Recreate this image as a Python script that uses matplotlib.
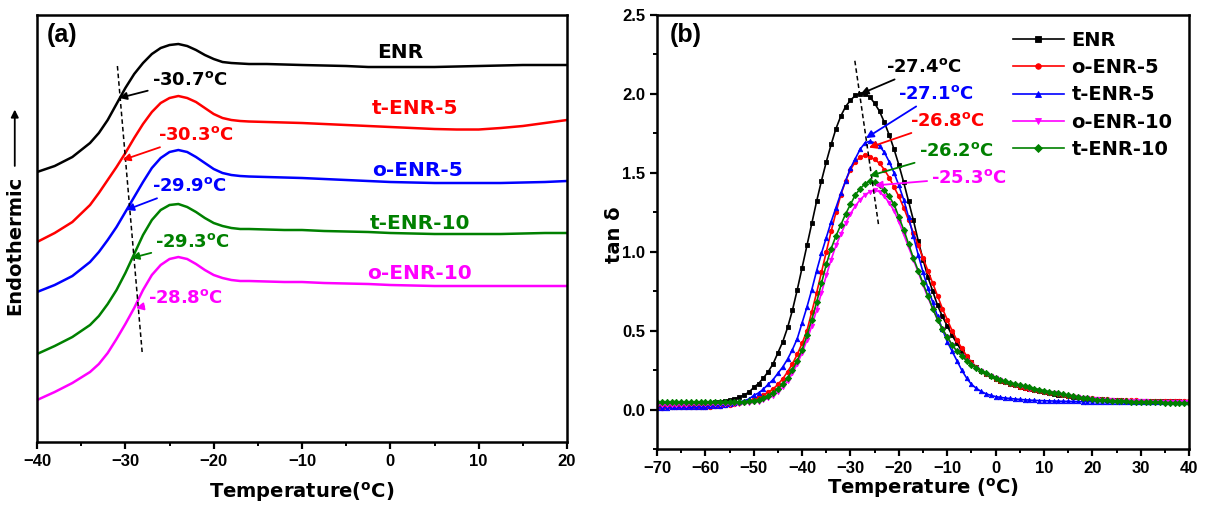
import matplotlib
matplotlib.use('Agg')
import matplotlib.pyplot as plt
from matplotlib.ticker import MultipleLocator, FormatStrFormatter

# ---------------- (a) DSC curves ----------------
T_dsc = [-40, -38, -36, -34, -33, -32, -31, -30, -29, -28, -27, -26, -25, -24, -23,
         -22, -21, -20, -19, -18, -17, -16, -14, -12, -10, -7.5, -5, -2.5, 0, 2.5,
         5, 7.5, 10, 12.5, 15, 17.5, 20]

dsc_enr = [27.0, 27.6, 28.5, 29.9, 30.9, 32.2, 33.8, 35.4, 36.8, 37.9, 38.8, 39.4, 39.7,
           39.8, 39.6, 39.2, 38.7, 38.3, 38.0, 37.9, 37.85, 37.8, 37.8, 37.75, 37.7,
           37.65, 37.6, 37.5, 37.5, 37.5, 37.5, 37.55, 37.6, 37.65, 37.7, 37.7, 37.7]
dsc_tenr5 = [20.0, 20.9, 22.0, 23.7, 24.9, 26.2, 27.5, 28.9, 30.4, 31.8, 33.0, 33.9, 34.4,
             34.6, 34.4, 34.0, 33.4, 32.8, 32.4, 32.2, 32.1, 32.05, 32.0, 31.95, 31.9,
             31.8, 31.7, 31.6, 31.5, 31.4, 31.3, 31.25, 31.25, 31.4, 31.6, 31.9, 32.2]
dsc_oenr5 = [15.0, 15.7, 16.6, 18.0, 19.0, 20.2, 21.5, 23.0, 24.5, 26.0, 27.4, 28.4, 29.0,
             29.2, 29.0, 28.5, 27.9, 27.3, 26.9, 26.7, 26.6, 26.55, 26.5, 26.45, 26.4,
             26.3, 26.2, 26.1, 26.0, 25.95, 25.9, 25.9, 25.9, 25.9, 25.95, 26.0, 26.1]
dsc_tenr10 = [8.8, 9.6, 10.5, 11.7, 12.6, 13.8, 15.2, 16.9, 18.8, 20.7, 22.2, 23.2, 23.7,
              23.8, 23.5, 23.0, 22.4, 21.9, 21.6, 21.4, 21.3, 21.3, 21.25, 21.2, 21.2,
              21.1, 21.05, 21.0, 20.9, 20.85, 20.8, 20.8, 20.8, 20.8, 20.85, 20.9, 20.9]
dsc_oenr10 = [4.2, 5.0, 5.9, 7.0, 7.8, 8.9, 10.3, 11.8, 13.4, 15.2, 16.7, 17.7, 18.3,
              18.5, 18.3, 17.8, 17.2, 16.7, 16.4, 16.2, 16.1, 16.1, 16.05, 16.0, 16.0,
              15.9, 15.85, 15.8, 15.7, 15.65, 15.6, 15.6, 15.6, 15.6, 15.6, 15.6, 15.6]

dsc_names = ['ENR', 't-ENR-5', 'o-ENR-5', 't-ENR-10', 'o-ENR-10']
dsc_colors = ['black', '#ff0000', '#0000ff', '#008000', '#ff00ff']
dsc_series = [dsc_enr, dsc_tenr5, dsc_oenr5, dsc_tenr10, dsc_oenr10]
dsc_label_pos = [(1.1, 39.0), (2.8, 33.4), (3.1, 27.2), (3.4, 21.9), (3.3, 16.9)]

tg_dsc = [-30.7, -30.3, -29.9, -29.3, -28.8]
tg_dsc_y = [34.4, 28.2, 23.2, 18.4, 13.4]
tg_dsc_text = [(-27.0, 36.2), (-26.3, 30.7), (-27.0, 25.6), (-26.6, 20.0), (-27.4, 14.4)]
guide_a_T = [-30.9, -28.1]
guide_a_y = [37.6, 9.0]

# ---------------- (b) DMA tan delta ----------------
T_dma = list(range(-70, 41))

tan_enr = [0.035, 0.035, 0.036, 0.036, 0.037, 0.037, 0.038, 0.038, 0.039, 0.040, 0.041, 0.043, 0.045, 0.048, 0.053,
           0.060, 0.068, 0.078, 0.092, 0.11,
           0.14, 0.165, 0.20, 0.24, 0.29, 0.36, 0.43, 0.52, 0.63, 0.76,
           0.90, 1.04, 1.18, 1.32, 1.45, 1.57, 1.68, 1.78, 1.86, 1.92,
           1.96, 1.99, 2.00, 2.00, 1.98, 1.94, 1.89, 1.82, 1.74, 1.65,
           1.55, 1.44, 1.32, 1.20, 1.07, 0.95, 0.84, 0.75, 0.66, 0.59,
           0.53, 0.47, 0.42, 0.37, 0.33, 0.30, 0.27, 0.245, 0.225, 0.21,
           0.195, 0.183, 0.172, 0.162, 0.153, 0.145, 0.137, 0.130, 0.123, 0.116,
           0.110, 0.104, 0.099, 0.094, 0.089, 0.085, 0.081, 0.077, 0.074, 0.071,
           0.068, 0.066, 0.064, 0.062, 0.060, 0.059, 0.058, 0.057, 0.056, 0.055,
           0.054, 0.054, 0.053, 0.053, 0.052, 0.052, 0.052, 0.051, 0.051, 0.050, 0.050]
tan_oenr5 = [0.012, 0.012, 0.013, 0.013, 0.014, 0.014, 0.015, 0.015, 0.016, 0.017, 0.018, 0.019, 0.021, 0.023, 0.026,
             0.030, 0.035, 0.040, 0.048, 0.056,
             0.065, 0.078, 0.092, 0.11, 0.13, 0.16, 0.195, 0.24, 0.29, 0.35,
             0.42, 0.50, 0.62, 0.74, 0.87, 1.00, 1.13, 1.25, 1.36, 1.45,
             1.52, 1.57, 1.60, 1.61, 1.60, 1.585, 1.56, 1.52, 1.47, 1.41,
             1.35, 1.28, 1.20, 1.12, 1.04, 0.96, 0.88, 0.80, 0.72, 0.64,
             0.57, 0.50, 0.44, 0.39, 0.34, 0.30, 0.27, 0.245, 0.225, 0.21,
             0.195, 0.183, 0.172, 0.162, 0.153, 0.145, 0.138, 0.131, 0.125, 0.119,
             0.113, 0.108, 0.103, 0.098, 0.093, 0.088, 0.084, 0.080, 0.076, 0.073,
             0.070, 0.068, 0.066, 0.064, 0.062, 0.061, 0.060, 0.059, 0.058, 0.058,
             0.057, 0.057, 0.057, 0.056, 0.056, 0.056, 0.056, 0.056, 0.057, 0.057, 0.057]
tan_tenr5 = [0.012, 0.012, 0.012, 0.013, 0.013, 0.014, 0.014, 0.015, 0.016, 0.017, 0.018, 0.020, 0.022, 0.025, 0.029,
             0.034, 0.040, 0.047, 0.056, 0.066,
             0.09, 0.105, 0.13, 0.16, 0.19, 0.23, 0.27, 0.32, 0.38, 0.45,
             0.55, 0.65, 0.76, 0.88, 0.99, 1.09, 1.19, 1.28, 1.37, 1.45,
             1.53, 1.59, 1.65, 1.69, 1.70, 1.69, 1.67, 1.63, 1.57, 1.50,
             1.42, 1.33, 1.22, 1.10, 0.98, 0.87, 0.77, 0.68, 0.59, 0.51,
             0.43, 0.37, 0.31, 0.25, 0.20, 0.16, 0.135, 0.115, 0.10, 0.09,
             0.082, 0.077, 0.073, 0.070, 0.067, 0.064, 0.062, 0.060, 0.058, 0.057,
             0.056, 0.055, 0.054, 0.053, 0.052, 0.052, 0.051, 0.051, 0.050, 0.050,
             0.050, 0.050, 0.050, 0.050, 0.050, 0.050, 0.050, 0.050, 0.050, 0.050,
             0.050, 0.050, 0.050, 0.050, 0.050, 0.050, 0.050, 0.050, 0.050, 0.050, 0.050]
tan_oenr10 = [0.030, 0.030, 0.030, 0.030, 0.031, 0.031, 0.031, 0.032, 0.032, 0.032, 0.033, 0.033, 0.034, 0.034, 0.035,
              0.036, 0.037, 0.038, 0.040, 0.042,
              0.045, 0.05, 0.06, 0.072, 0.088, 0.11, 0.14, 0.18, 0.23, 0.29,
              0.36, 0.44, 0.53, 0.63, 0.74, 0.85, 0.95, 1.04, 1.11, 1.18,
              1.24, 1.29, 1.33, 1.36, 1.38, 1.39, 1.38, 1.35, 1.31, 1.26,
              1.19, 1.11, 1.03, 0.95, 0.87, 0.79, 0.71, 0.64, 0.57, 0.51,
              0.46, 0.41, 0.37, 0.34, 0.31, 0.285, 0.262, 0.242, 0.226, 0.212,
              0.198, 0.186, 0.175, 0.165, 0.156, 0.148, 0.14, 0.133, 0.126, 0.12,
              0.114, 0.108, 0.102, 0.097, 0.092, 0.087, 0.082, 0.078, 0.074, 0.07,
              0.067, 0.064, 0.062, 0.06, 0.058, 0.056, 0.055, 0.054, 0.053, 0.052,
              0.051, 0.051, 0.05, 0.05, 0.05, 0.049, 0.049, 0.049, 0.048, 0.048, 0.048]
tan_tenr10 = [0.046, 0.046, 0.046, 0.046, 0.046, 0.046, 0.046, 0.046, 0.046, 0.046, 0.046, 0.046, 0.046, 0.047, 0.047,
              0.047, 0.048, 0.048, 0.049, 0.051,
              0.055, 0.062, 0.072, 0.085, 0.105, 0.13, 0.16, 0.20, 0.25, 0.31,
              0.38, 0.47, 0.57, 0.68, 0.80, 0.92, 1.02, 1.10, 1.17, 1.24,
              1.30, 1.36, 1.40, 1.43, 1.45, 1.44, 1.42, 1.39, 1.35, 1.30,
              1.22, 1.14, 1.05, 0.96, 0.88, 0.80, 0.72, 0.64, 0.57, 0.51,
              0.46, 0.41, 0.37, 0.34, 0.31, 0.285, 0.265, 0.245, 0.23, 0.215,
              0.20, 0.19, 0.18, 0.17, 0.162, 0.155, 0.148, 0.14, 0.133, 0.127,
              0.12, 0.114, 0.108, 0.102, 0.096, 0.09, 0.084, 0.079, 0.074, 0.07,
              0.066, 0.063, 0.06, 0.058, 0.056, 0.054, 0.052, 0.051, 0.05, 0.049,
              0.048, 0.047, 0.046, 0.045, 0.045, 0.044, 0.044, 0.043, 0.043, 0.042, 0.042]

dma_names = ['ENR', 'o-ENR-5', 't-ENR-5', 'o-ENR-10', 't-ENR-10']
dma_colors = ['black', '#ff0000', '#0000ff', '#ff00ff', '#008000']
dma_markers = ['s', 'o', '^', 'v', 'D']
dma_series = [tan_enr, tan_oenr5, tan_tenr5, tan_oenr10, tan_tenr10]

# peak labels: text (T, y), arrow tip (T, y), colour
tg_dma = ['-27.4', '-27.1', '-26.8', '-26.2', '-25.3']
tg_dma_colors = ['black', '#0000ff', '#ff0000', '#008000', '#ff00ff']
tg_dma_text = [(-22.7, 2.17), (-20.1, 2.0), (-17.8, 1.83), (-15.9, 1.64), (-13.3, 1.47)]
tg_dma_tip = [(-27.9, 2.0), (-26.8, 1.72), (-26.2, 1.66), (-26.1, 1.48), (-25.0, 1.42)]
guide_b_T = [-29.1, -24.2]
guide_b_y = [2.21, 1.17]

BOLD = 'DejaVu Sans'
TICKF = 'Liberation Sans'
plt.rcParams['mathtext.default'] = 'bf'

fig = plt.figure(figsize=(12.1, 5.07), dpi=100)
ax1 = fig.add_axes([0.0306, 0.1282, 0.438, 0.8422])
ax2 = fig.add_axes([0.543, 0.1144, 0.4397, 0.856])


def style_axes(ax):
    for s in ax.spines.values():
        s.set_linewidth(1.8)
    ax.tick_params(which='major', direction='out', length=5, width=1.6)
    ax.tick_params(which='minor', direction='out', length=3, width=1.4)
    ax.tick_params(top=False, right=False)
    for lab in ax.get_xticklabels() + ax.get_yticklabels():
        lab.set_fontfamily(TICKF)
        lab.set_fontweight('bold')
        lab.set_fontsize(12)


# ----- panel (a)
for name, col, ys, (lx, ly) in zip(dsc_names, dsc_colors, dsc_series, dsc_label_pos):
    ax1.plot(T_dsc, ys, color=col, lw=1.8)
    ax1.text(lx, ly, name, color=col, fontsize=14.5, fontweight='bold',
             family=BOLD, ha='center', va='center')

ax1.plot(guide_a_T, guide_a_y, color='black', lw=1.1, ls=(0, (3, 2)))

for tg, ty, (tx, tyy), col in zip(tg_dsc, tg_dsc_y, tg_dsc_text, dsc_colors):
    ax1.annotate('%.1f$^{o}$C' % tg, xy=(tg, ty), xytext=(tx, tyy), color=col,
                 fontsize=13, fontweight='bold', family=BOLD, ha='left', va='center',
                 arrowprops=dict(arrowstyle='-|>', color=col, lw=1.3,
                                 mutation_scale=11, shrinkA=1, shrinkB=0))

ax1.set_xlim(-40, 20)
ax1.set_ylim(0, 42.7)
ax1.set_yticks([])
ax1.xaxis.set_minor_locator(MultipleLocator(5))
ax1.set_xticks([-40, -30, -20, -10, 0, 10, 20])
style_axes(ax1)
ax1.set_xlabel('Temperature($^{o}$C)', fontsize=14, fontweight='bold', family=BOLD,
               labelpad=8)
ax1.set_ylabel('Endothermic', fontsize=14, fontweight='bold', family=BOLD)
ax1.yaxis.set_label_coords(-0.025, 0.46)
ax1.annotate('', xy=(-0.042, 0.785), xytext=(-0.042, 0.64), xycoords='axes fraction',
             arrowprops=dict(arrowstyle='-|>', color='black', lw=1.3, mutation_scale=11))
ax1.text(0.019, 0.953, '(a)', transform=ax1.transAxes, fontsize=18,
         fontweight='bold', family=TICKF, ha='left', va='center')

# ----- panel (b)
for name, col, mk, ys in zip(dma_names, dma_colors, dma_markers, dma_series):
    ax2.plot(T_dma, ys, color=col, lw=1.2, marker=mk, markersize=3.2,
             markeredgewidth=0.6, label=name)

ax2.plot(guide_b_T, guide_b_y, color='black', lw=1.1, ls=(0, (3, 2)))

for tg, (tx, ty), (px, py), col in zip(tg_dma, tg_dma_text, tg_dma_tip, tg_dma_colors):
    ax2.annotate(tg + '$^{o}$C', xy=(px, py), xytext=(tx, ty), color=col,
                 fontsize=13, fontweight='bold', family=BOLD, ha='left', va='center',
                 arrowprops=dict(arrowstyle='-|>', color=col, lw=1.3,
                                 mutation_scale=11, shrinkA=1, shrinkB=0))

ax2.set_xlim(-70, 40)
ax2.set_ylim(-0.25, 2.5)
ax2.xaxis.set_major_locator(MultipleLocator(10))
ax2.xaxis.set_minor_locator(MultipleLocator(5))
ax2.yaxis.set_minor_locator(MultipleLocator(0.25))
ax2.set_yticks([0.0, 0.5, 1.0, 1.5, 2.0, 2.5])
ax2.yaxis.set_major_formatter(FormatStrFormatter('%.1f'))
style_axes(ax2)
ax2.set_xlabel('Temperature ($^{o}$C)', fontsize=14, fontweight='bold', family=BOLD,
               labelpad=0)
ax2.set_ylabel('tan δ', fontsize=14, fontweight='bold', family=BOLD)
ax2.yaxis.set_label_coords(-0.063, 0.493)
ax2.text(0.024, 0.954, '(b)', transform=ax2.transAxes, fontsize=18,
         fontweight='bold', family=TICKF, ha='left', va='center')

leg = ax2.legend(loc='upper left', bbox_to_anchor=(0.669, 0.963), frameon=False,
                 borderaxespad=0, borderpad=0, handlelength=2.6, handletextpad=0.4,
                 labelspacing=0.42, numpoints=1,
                 prop={'family': BOLD, 'weight': 'bold', 'size': 14})
for h in leg.get_lines():
    h.set_markersize(4)

fig.savefig('out.png', dpi=100)
